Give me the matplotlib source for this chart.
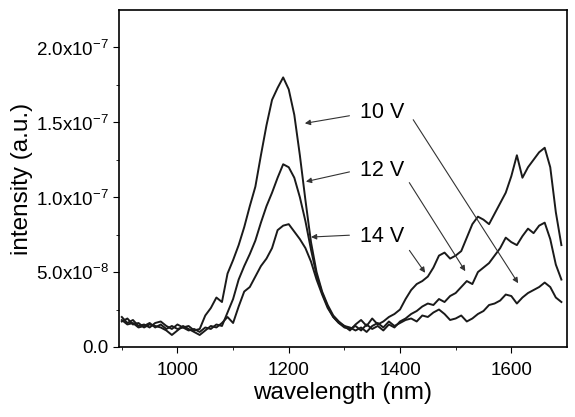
import numpy as np
import matplotlib
matplotlib.use("Agg")
import matplotlib.pyplot as plt

plt.rcParams['font.family'] = ['Liberation Sans', 'DejaVu Sans']
plt.rcParams['mathtext.fontset'] = 'custom'
plt.rcParams['mathtext.rm'] = 'Liberation Sans'

# wavelength grid (nm)
wavelength = np.arange(900, 1700, 10)

# intensities in units of 1e-8 a.u.
v10 = [2.0, 1.6, 1.8, 1.4, 1.5, 1.3, 1.6, 1.7, 1.4, 1.2,
       1.5, 1.3, 1.4, 1.1, 1.2, 2.1, 2.6, 3.3, 3.0, 4.9,
       5.8, 6.8, 8.0, 9.4, 10.7, 12.8, 14.8, 16.5, 17.3, 18.0,
       17.2, 15.5, 12.8, 9.8, 7.0, 5.0, 3.7, 2.8, 2.1, 1.7,
       1.4, 1.3, 1.1, 1.3, 1.0, 1.4, 1.6, 1.3, 1.7, 1.4,
       1.6, 1.8, 1.9, 1.7, 2.1, 2.0, 2.3, 2.5, 2.2, 1.8,
       1.9, 2.1, 1.7, 1.9, 2.2, 2.4, 2.8, 2.9, 3.1, 3.5,
       3.4, 2.9, 3.3, 3.6, 3.8, 4.0, 4.3, 4.0, 3.3, 3.0]
v12 = [1.8, 1.5, 1.6, 1.3, 1.4, 1.6, 1.3, 1.5, 1.2, 1.4,
       1.2, 1.3, 1.1, 1.2, 1.0, 1.3, 1.2, 1.5, 1.4, 2.3,
       3.2, 4.5, 5.4, 6.2, 7.1, 8.3, 9.4, 10.3, 11.3, 12.2,
       12.0, 11.3, 10.0, 8.4, 6.5, 4.8, 3.6, 2.7, 2.0, 1.6,
       1.3, 1.2, 1.4, 1.1, 1.5, 1.2, 1.4, 1.1, 1.5, 1.3,
       1.7, 1.9, 2.2, 2.4, 2.7, 2.9, 2.8, 3.2, 3.0, 3.4,
       3.6, 4.0, 4.4, 4.2, 5.0, 5.3, 5.6, 6.1, 6.6, 7.3,
       7.0, 6.8, 7.4, 7.9, 7.6, 8.1, 8.3, 7.2, 5.5, 4.5]
v14 = [1.7, 1.9, 1.5, 1.6, 1.3, 1.5, 1.4, 1.3, 1.1, 0.8,
       1.1, 1.4, 1.2, 1.0, 0.8, 1.1, 1.4, 1.3, 1.6, 2.0,
       1.6, 2.7, 3.7, 4.0, 4.7, 5.4, 5.9, 6.6, 7.8, 8.1,
       8.2, 7.7, 7.2, 6.6, 5.7, 4.5, 3.5, 2.6, 2.0, 1.6,
       1.4, 1.1, 1.5, 1.8, 1.4, 1.9, 1.5, 1.7, 2.0, 2.2,
       2.5, 3.2, 3.8, 4.2, 4.4, 4.7, 5.3, 6.1, 6.3, 5.9,
       6.1, 6.4, 7.3, 8.2, 8.7, 8.5, 8.2, 8.9, 9.6, 10.3,
       11.4, 12.8, 11.3, 12.0, 12.5, 13.0, 13.3, 12.0, 9.0, 6.8]

labels = ['10 V', '12 V', '14 V']
y_ticks = [0, 5e-8, 1e-7, 1.5e-7, 2e-7]
y_ticklabels = ['0.0', r'5.0x10$^{-8}$', r'1.0x10$^{-7}$', r'1.5x10$^{-7}$', r'2.0x10$^{-7}$']
x_ticks = [1000, 1200, 1400, 1600]

fig = plt.figure(figsize=(5.75, 4.17), dpi=100)
ax = fig.add_axes([0.207, 0.168, 0.779, 0.808])

for s in [v10, v12, v14]:
    ax.plot(wavelength, np.array(s) * 1e-8, color='#1a1a1a', lw=1.4)

ax.set_xlim(895, 1700)
ax.set_ylim(0, 2.25e-7)
ax.set_xticks(x_ticks)
ax.set_xticks(np.arange(900, 1700, 100), minor=True)
ax.set_yticks(y_ticks)
ax.set_yticklabels(y_ticklabels)
ax.set_yticks(np.arange(0, 2.25e-7, 2.5e-8), minor=True)
ax.tick_params(axis='x', which='major', pad=7)
ax.tick_params(which='major', direction='out', length=4, labelsize=13.5, top=False, right=False)
ax.tick_params(which='minor', direction='out', length=2, top=False, right=False)
for sp in ax.spines.values():
    sp.set_linewidth(1.2)

ax.set_xlabel('wavelength (nm)', fontsize=17.5, labelpad=2)
ax.set_ylabel('intensity (a.u.)', fontsize=17.5, labelpad=2)

# labels with arrows: text position, left target, right target
text_pos = [(1368, 1.565e-7), (1368, 1.175e-7), (1368, 0.74e-7)]
left_tip = [(1224, 1.49e-7), (1226, 1.10e-7), (1235, 0.733e-7)]
right_tip = [(1615, 4.1e-8), (1520, 4.9e-8), (1448, 4.8e-8)]
left_start = [(1314, 1.547e-7), (1314, 1.173e-7), (1314, 0.747e-7)]
right_start = [(1421, 1.533e-7), (1414, 1.113e-7), (1414, 0.66e-7)]

aprops = dict(arrowstyle='-|>', color='#333333', lw=0.8, mutation_scale=8)
for lab, tp, lt, rt, ls, rs in zip(labels, text_pos, left_tip, right_tip, left_start, right_start):
    ax.text(tp[0], tp[1], lab, fontsize=15.5, ha='center', va='center')
    ax.annotate('', xy=lt, xytext=ls, arrowprops=aprops)
    ax.annotate('', xy=rt, xytext=rs, arrowprops=aprops)

fig.savefig('out.png', dpi=100)
